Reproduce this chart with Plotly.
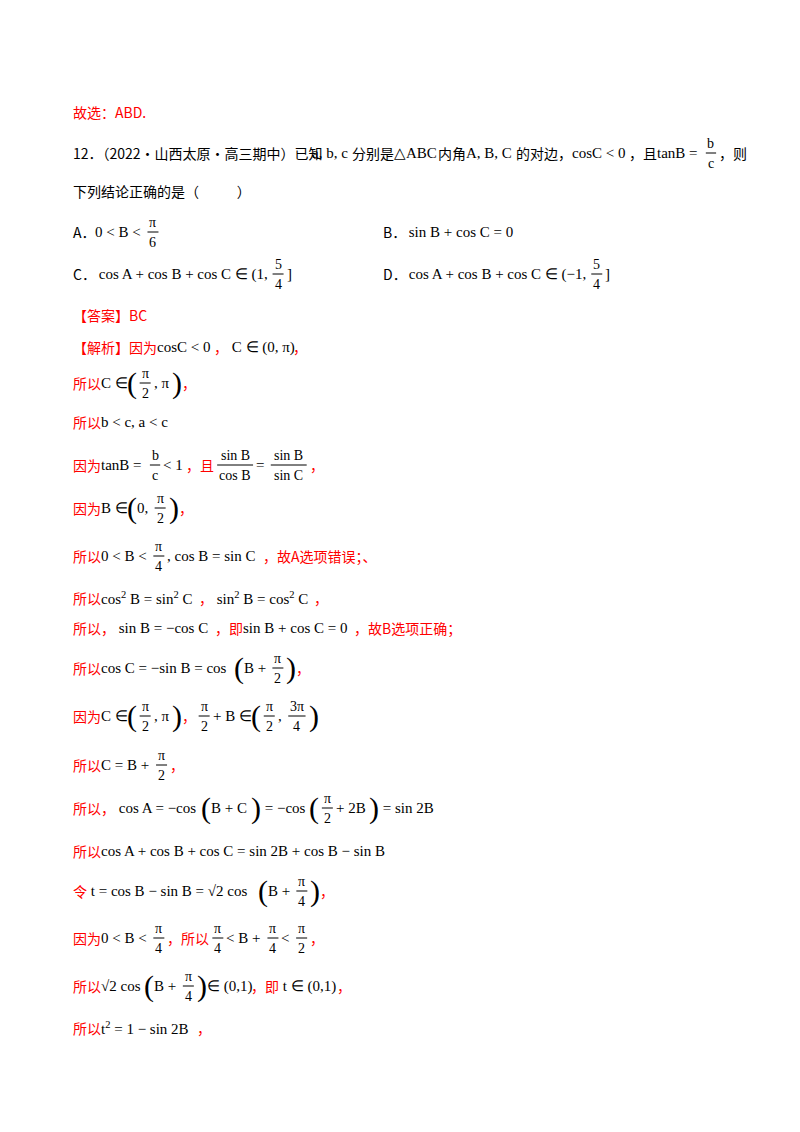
import re
import plotly.graph_objects as go

R = "#ff0000"
K = "#000000"

# page text, one list per line; ("c",txt,color) text, ("m",txt) math, ("f",num,den) fraction,
# ("b",paren) big bracket, ("x",pos) tab stop
line_texts = [
    [("c", "故选：ABD.", R)],
    [("c", "12．（2022·山西太原·高三期中）已知", K), ("m", "a, b, c"), ("c", "分别是", K), ("m", "△ABC"),
     ("c", "内角", K), ("m", "A, B, C"), ("c", "的对边，", K), ("m", "cosC < 0"), ("c", "，且", K),
     ("m", "tanB ="), ("f", "b", "c"), ("c", "，则", K)],
    [("c", "下列结论正确的是（            ）", K)],
    [("c", "A．", K), ("m", "0 < B <"), ("f", "π", "6"), ("x", 378), ("c", "B．", K), ("m", " sin B + cos C = 0")],
    [("c", "C．", K), ("m", " cos A + cos B + cos C ∈ (1,"), ("f", "5", "4"), ("m", "]"), ("x", 378),
     ("c", "D．", K), ("m", " cos A + cos B + cos C ∈ (−1,"), ("f", "5", "4"), ("m", "]")],
    [("c", "【答案】BC", R)],
    [("c", "【解析】因为", R), ("m", "cosC < 0"), ("c", "，", R), ("m", " C ∈ (0, π)"), ("c", "，", R)],
    [("c", "所以", R), ("m", "C ∈"), ("b", "("), ("f", "π", "2"), ("m", ", π"), ("b", ")"), ("c", "，", R)],
    [("c", "所以", R), ("m", "b < c, a < c")],
    [("c", "因为", R), ("m", "tanB ="), ("f", "b", "c"), ("m", "< 1"), ("c", "，且", R),
     ("f", "sin B", "cos B"), ("m", "="), ("f", "sin B", "sin C"), ("c", "，", R)],
    [("c", "因为", R), ("m", "B ∈"), ("b", "("), ("m", "0,"), ("f", "π", "2"), ("b", ")"), ("c", "，", R)],
    [("c", "所以", R), ("m", "0 < B <"), ("f", "π", "4"), ("m", ", cos B = sin C"), ("c", "，故A选项错误；、", R)],
    [("c", "所以", R), ("m", "cos<sup>2</sup> B = sin<sup>2</sup> C"), ("c", "，", R),
     ("m", " sin<sup>2</sup> B = cos<sup>2</sup> C"), ("c", "，", R)],
    [("c", "所以，", R), ("m", " sin B = −cos C"), ("c", "，即", R), ("m", "sin B + cos C = 0"), ("c", "，故B选项正确；", R)],
    [("c", "所以", R), ("m", "cos C = −sin B = cos"), ("b", "("), ("m", "B +"), ("f", "π", "2"), ("b", ")"), ("c", "，", R)],
    [("c", "因为", R), ("m", "C ∈"), ("b", "("), ("f", "π", "2"), ("m", ", π"), ("b", ")"), ("c", "，", R),
     ("f", "π", "2"), ("m", "+ B ∈"), ("b", "("), ("f", "π", "2"), ("m", ","), ("f", "3π", "4"), ("b", ")")],
    [("c", "所以", R), ("m", "C = B +"), ("f", "π", "2"), ("c", "，", R)],
    [("c", "所以，", R), ("m", " cos A = −cos"), ("b", "("), ("m", "B + C"), ("b", ")"), ("m", " = −cos"), ("b", "("),
     ("f", "π", "2"), ("m", "+ 2B"), ("b", ")"), ("m", " = sin 2B")],
    [("c", "所以", R), ("m", "cos A + cos B + cos C = sin 2B + cos B − sin B")],
    [("c", "令", R), ("m", " t = cos B − sin B = √2 cos"), ("b", "("), ("m", "B +"), ("f", "π", "4"), ("b", ")"), ("c", "，", R)],
    [("c", "因为", R), ("m", "0 < B <"), ("f", "π", "4"), ("c", "，所以", R), ("f", "π", "4"), ("m", "< B +"),
     ("f", "π", "4"), ("m", "<"), ("f", "π", "2"), ("c", "，", R)],
    [("c", "所以", R), ("m", "√2 cos"), ("b", "("), ("m", "B +"), ("f", "π", "4"), ("b", ")"), ("m", "∈ (0,1)"),
     ("c", "，即", R), ("m", " t ∈ (0,1)"), ("c", "，", R)],
    [("c", "所以", R), ("m", "t<sup>2</sup> = 1 − sin 2B"), ("c", "，", R)],
]
line_y = [104, 145, 183, 224, 266, 307, 339, 375, 414, 457, 500, 548, 590, 620, 660,
          708, 757, 800, 843, 883, 930, 978, 1020]

CJK = "Noto Sans CJK SC"
SERIF = "Liberation Serif"
FS = 14


def width(s, size, serif=True):
    s = re.sub(r"<sup>(.*?)</sup>", lambda m: "'" * len(m.group(1)), s)
    s = re.sub(r"<[^>]+>", "", s)
    tot = 0.0
    for ch in s:
        if ord(ch) > 0x2e80 or ch in "（）【】，；：":
            tot += 1.0
        elif not serif:
            tot += 0.58 if ch.isalnum() else 0.3
        elif ch.isupper() or ch == "△":
            tot += 0.68
        elif ch.islower() or ch == "π":
            tot += 0.45
        elif ch.isdigit():
            tot += 0.5
        elif ch == " ":
            tot += 0.25
        elif ch in "=<>+−∈√":
            tot += 0.58
        elif ch == "'":
            tot += 0.33
        else:
            tot += 0.3
    return tot * size


fig = go.Figure()
ann = []
shapes = []
for segs, y in zip(line_texts, line_y):
    x = 64
    for seg in segs:
        kind = seg[0]
        if kind == "x":
            x = seg[1] - 4
            continue
        if kind == "c":
            ann.append(dict(x=x, y=y, text=seg[1], font=dict(family=CJK, size=FS, color=seg[2])))
            x += width(seg[1], FS, serif=False)
        elif kind == "m":
            ann.append(dict(x=x, y=y, text=seg[1], font=dict(family=SERIF, size=15, color=K)))
            x += width(seg[1], 15) + 3
        elif kind == "b":
            ann.append(dict(x=x, y=y, text=seg[1], font=dict(family=SERIF, size=30, color=K)))
            x += 10
        elif kind == "f":
            fw = max(width(seg[1], 14), width(seg[2], 14)) + 4
            cx = x + fw / 2 + 4
            ann.append(dict(x=cx, y=y - 10, text=seg[1], xanchor="center",
                            font=dict(family=SERIF, size=14, color=K)))
            ann.append(dict(x=cx, y=y + 10, text=seg[2], xanchor="center",
                            font=dict(family=SERIF, size=14, color=K)))
            shapes.append(dict(type="line", x0=x + 4, x1=x + 4 + fw, y0=y, y1=y,
                               line=dict(color=K, width=1), xref="x", yref="y"))
            x += fw + 6

for a in ann:
    a.setdefault("xanchor", "left")
    a.update(yanchor="middle", xref="x", yref="y", showarrow=False, borderpad=0)

fig.update_layout(
    width=800, height=1132, margin=dict(l=0, r=0, t=0, b=0),
    paper_bgcolor="white", plot_bgcolor="white",
    xaxis=dict(range=[0, 800], visible=False, fixedrange=True),
    yaxis=dict(range=[1132, 0], visible=False, fixedrange=True),
    annotations=ann, shapes=shapes, showlegend=False,
)
fig.write_html("out.html")
